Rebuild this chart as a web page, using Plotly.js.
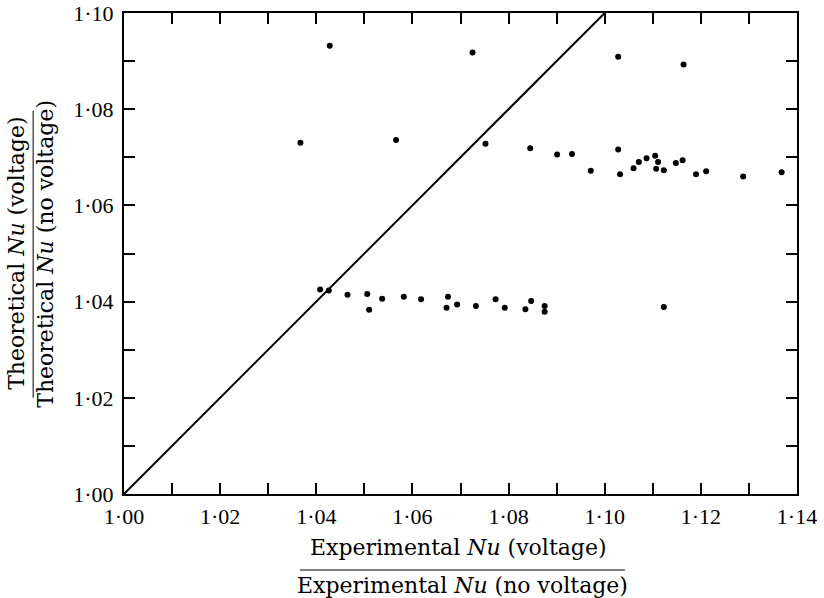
<!DOCTYPE html>
<html>
<head>
<meta charset="utf-8">
<script src="https://cdn.plot.ly/plotly-3.0.1.min.js"></script>
<style>html,body{margin:0;padding:0;background:#fff;}</style>
</head>
<body>
<div id="chart" style="width:824px;height:598px;"></div>
<script>
// Measured points: experimental ratio (x) vs theoretical ratio (y)
const expRatio = [
  1.0428, 1.0367, 1.0566, 1.0725, 1.1028, 1.1164,
  1.0752, 1.0845, 1.0901, 1.0932, 1.0971, 1.1028, 1.1032, 1.1060, 1.1071,
  1.1087, 1.1105, 1.1111, 1.1107, 1.1123, 1.1148, 1.1162, 1.1190, 1.1211,
  1.1288, 1.1368,
  1.0408, 1.0426, 1.0465, 1.0506, 1.0510, 1.0537, 1.0582, 1.0618, 1.0674,
  1.0671, 1.0693, 1.0732, 1.0773, 1.0792, 1.0835, 1.0847, 1.0875, 1.0875,
  1.1123
];
const theoRatio = [
  1.0932, 1.0730, 1.0736, 1.0918, 1.0909, 1.0893,
  1.0728, 1.0719, 1.0706, 1.0707, 1.0672, 1.0716, 1.0665, 1.0677, 1.0690,
  1.0698, 1.0703, 1.0690, 1.0676, 1.0673, 1.0688, 1.0694, 1.0665, 1.0671,
  1.0660, 1.0669,
  1.0425, 1.0423, 1.0414, 1.0416, 1.0383, 1.0406, 1.0410, 1.0405, 1.0410,
  1.0387, 1.0394, 1.0391, 1.0405, 1.0387, 1.0384, 1.0401, 1.0391, 1.0379,
  1.0389
];
// Line of equality
const equalX = [1.00, 1.10];
const equalY = [1.00, 1.10];

// Tick values and labels
const xTickVals = [1.00,1.01,1.02,1.03,1.04,1.05,1.06,1.07,1.08,1.09,1.10,1.11,1.12,1.13,1.14];
const xTickText = ['1·00','','1·02','','1·04','','1·06','','1·08','','1·10','','1·12','','1·14'];
const yTickVals = [1.00,1.01,1.02,1.03,1.04,1.05,1.06,1.07,1.08,1.09,1.10];
const yTickText = ['1·00','','1·02','','1·04','','1·06','','1·08','','1·10'];

const traces = [
  {
    x: equalX, y: equalY, type: 'scatter', mode: 'lines',
    line: {color: '#000', width: 2}, hoverinfo: 'skip', cliponaxis: false
  },
  {
    x: expRatio, y: theoRatio, type: 'scatter', mode: 'markers',
    marker: {color: '#000', size: 6}
  }
];

const tickFont = {family: '"Liberation Serif", "Times New Roman", serif', size: 22, color: '#000'};
const titleFont = {family: '"DejaVu Serif", serif', size: 22, color: '#000'};

const axisCommon = {
  showgrid: false, zeroline: false,
  showline: true, linecolor: '#000', linewidth: 2,
  mirror: 'ticks', ticks: 'inside', ticklen: 11, tickwidth: 2, tickcolor: '#000',
  tickmode: 'array', tickfont: tickFont
};

const layout = {
  width: 824, height: 598,
  margin: {l: 124, r: 27, t: 13, b: 104},
  paper_bgcolor: '#fff', plot_bgcolor: '#fff',
  showlegend: false,
  xaxis: Object.assign({}, axisCommon, {
    range: [1.00, 1.14], tickvals: xTickVals, ticktext: xTickText, ticklabelstandoff: 2
  }),
  yaxis: Object.assign({}, axisCommon, {
    range: [1.00, 1.10], tickvals: yTickVals, ticktext: yTickText, ticklabelstandoff: 4
  }),
  annotations: [
    {xref: 'paper', yref: 'paper', x: 0.497, y: -0.112, text: 'Experimental <i>Nu</i> (voltage)',
     showarrow: false, font: titleFont, xanchor: 'center', yanchor: 'middle'},
    {xref: 'paper', yref: 'paper', x: 0.503, y: -0.190, text: 'Experimental <i>Nu</i> (no voltage)',
     showarrow: false, font: titleFont, xanchor: 'center', yanchor: 'middle'},
    {xref: 'paper', yref: 'paper', x: -0.160, y: 0.5, text: 'Theoretical <i>Nu</i> (voltage)',
     showarrow: false, font: titleFont, textangle: -90, xanchor: 'center', yanchor: 'middle'},
    {xref: 'paper', yref: 'paper', x: -0.117, y: 0.5, text: 'Theoretical <i>Nu</i> (no voltage)',
     showarrow: false, font: titleFont, textangle: -90, xanchor: 'center', yanchor: 'middle'}
  ],
  shapes: [
    {type: 'line', xref: 'paper', yref: 'paper', x0: 0.2615, x1: 0.7444, y0: -0.158, y1: -0.158,
     line: {color: '#000', width: 1}},
    {type: 'line', xref: 'paper', yref: 'paper', x0: -0.135, x1: -0.135, y0: 0.2, y1: 0.797,
     line: {color: '#000', width: 1}}
  ]
};

Plotly.newPlot('chart', traces, layout, {displayModeBar: false, staticPlot: true});
</script>
</body>
</html>
